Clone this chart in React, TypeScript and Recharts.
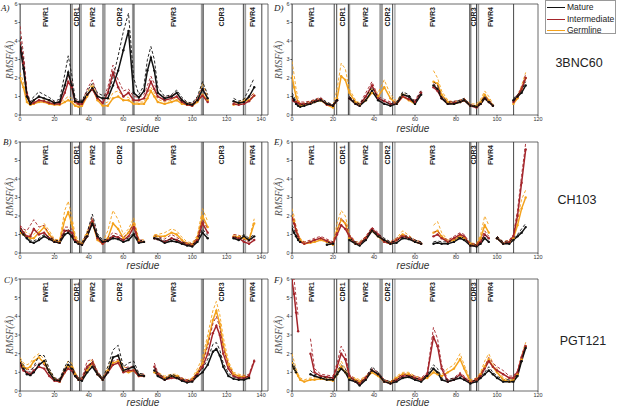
import React from 'react';
import { LineChart, Line, XAxis, YAxis, ReferenceLine, ReferenceArea } from 'recharts';

// residue positions sampled for heavy (A-C) and light (D-F) chains
const heavyRes = [0, 2, 4, 6, 8, 11, 14, 17, 20, 23, 26, 28, 30, 32, 34, 36, 39, 42, 45, 48, 51, 54, 57, 60, 63, 66, 69, 72, 74, 76, 78, 80, 84, 88, 91, 94, 97, 100, 103, 106, 109, 112, 114, 116, 118, 121, 124, 127, 130, 133, 136];
const lightRes = [0, 1, 2, 3, 4, 6, 9, 11, 14, 17, 20, 22, 24, 26, 28, 31, 33, 36, 39, 42, 45, 48, 51, 54, 57, 60, 63, 66, 69, 71, 73, 76, 79, 82, 84, 87, 90, 92, 94, 96, 98, 100, 103, 106, 108, 110, 112, 114];

const heavyTicks = [0, 20, 40, 60, 80, 100, 120, 140];
const lightTicks = [0, 20, 40, 60, 80, 100, 120];
const rmsfTicks = [0, 1, 2, 3, 4, 5, 6];

// region boundaries (residue numbers)
const heavyBlack = [29.3, 34.6, 48.2, 66.2, 106.4, 129.7, 140.4];
const heavyGray = [[0, 0.5], [29.7, 30.7], [35, 35.9], [48.7, 49.7], [65, 66], [105, 106.2], [130.3, 131.3]];
const heavyRegions: [string, number][] = [['FWR1', 14.7], ['CDR1', 32.6], ['FWR2', 42.3], ['CDR2', 57.5], ['FWR3', 89], ['CDR3', 117], ['FWR4', 135]];
const lightBlack = [20.6, 21.8, 27.5, 43.9, 49.1, 86.7, 90, 108.1];
const lightGray = [[0, 0.4], [27.6, 28.4], [42.6, 43.4], [49.9, 50.5], [86.8, 87.6], [90.5, 91.3]];
const lightRegions: [string, number][] = [['FWR1', 9.3], ['CDR1', 24.6], ['FWR2', 36], ['CDR2', 46.6], ['FWR3', 68.6], ['CDR3', 88.4], ['FWR4', 96.7]];

// A) 3BNC60 heavy
const matureA = [3.7, 2.5, 1.0, 0.6, 0.8, 1.0, 0.9, 0.8, 0.65, 0.7, 1.6, 2.3, 1.6, 0.75, 0.7, 0.7, 1.1, 1.45, 1.0, 0.9, 0.9, 1.6, 2.4, 3.5, 4.55, 1.2, 0.95, 1.3, 2.4, 3.1, 2.4, 1.2, 0.9, 1.0, 1.2, 0.8, 0.6, 0.55, 0.8, 1.4, 0.9, null, null, null, null, null, 0.75, 0.65, 0.7, 1.0, 1.5];
const matureHiA = [4.2, 3.0, 1.2, 0.7, 1.0, 1.25, 1.1, 0.95, 0.75, 0.85, 2.2, 3.2, 2.2, 0.9, 0.8, 0.8, 1.3, 1.7, 1.2, 1.05, 1.1, 2.0, 3.2, 4.5, 5.5, 2.0, 1.1, 1.6, 3.0, 3.7, 3.0, 1.5, 1.0, 1.1, 1.35, 0.95, 0.7, 0.65, 1.0, 1.8, 1.1, null, null, null, null, null, 0.9, 0.75, 0.85, 1.4, 2.0];
const interA = [3.9, 2.8, 1.1, 0.6, 0.65, 0.8, 0.75, 0.65, 0.6, 0.6, 1.2, 1.8, 1.5, 0.7, 0.6, 0.6, 1.1, 1.4, 0.9, 0.65, 1.2, 2.3, 1.5, 1.0, 1.2, 0.8, 0.8, 0.9, 1.3, 1.8, 1.4, 1.0, 0.8, 0.9, 1.0, 0.7, 0.55, 0.5, 0.8, 1.05, 0.7, null, null, null, null, null, 0.6, 0.55, 0.6, 0.75, 1.05];
const interHiA = [4.8, 3.3, 1.3, 0.7, 0.8, 0.95, 0.9, 0.8, 0.7, 0.7, 1.5, 2.1, 1.8, 0.85, 0.7, 0.7, 1.4, 1.9, 1.1, 0.8, 1.5, 2.7, 1.9, 1.3, 1.4, 1.0, 0.95, 1.1, 1.6, 2.1, 1.7, 1.2, 0.95, 1.05, 1.2, 0.85, 0.65, 0.6, 0.95, 1.5, 0.9, null, null, null, null, null, 0.7, 0.65, 0.7, 0.9, 1.2];
const germA = [2.0, 1.5, 0.7, 0.55, 0.6, 0.7, 0.7, 0.6, 0.55, 0.55, 0.7, 0.8, 0.7, 0.5, 0.45, 0.5, 1.0, 1.5, 0.8, 0.5, 0.5, 0.9, 1.0, 0.8, 0.8, 0.6, 0.6, 0.6, 0.9, 1.3, 1.0, 0.7, 0.6, 0.7, 0.8, 0.6, 0.55, 0.5, 0.7, 1.1, 0.8, null, null, null, null, null, 0.55, 0.6, 0.75, 0.8, 1.05];
const germHiA = [2.3, 1.8, 0.9, 0.65, 0.7, 0.8, 0.8, 0.7, 0.65, 0.65, 0.85, 1.0, 0.9, 0.6, 0.55, 0.6, 1.2, 1.7, 0.95, 0.6, 0.7, 1.2, 1.3, 1.0, 0.95, 0.7, 0.7, 0.7, 1.1, 1.5, 1.2, 0.85, 0.7, 0.8, 0.95, 0.7, 0.65, 0.6, 0.85, 1.7, 1.0, null, null, null, null, null, 0.65, 0.7, 0.85, 0.95, 1.2];

// B) CH103 heavy
const matureB = [1.2, 1.0, 0.8, 0.6, 0.55, 0.7, 0.9, 0.75, 0.6, 0.55, 1.0, 1.1, 0.9, 0.6, 0.5, 0.45, 0.9, 1.6, 0.9, 0.6, 0.65, 0.8, 0.75, 0.6, 0.7, 1.0, 0.55, 0.6, null, null, 0.8, 0.75, 0.55, 0.65, 0.6, 0.5, 0.4, 0.35, 0.6, 1.1, 0.8, null, null, null, null, null, 0.8, 0.7, 0.9, 0.7, 0.9];
const matureHiB = [1.4, 1.15, 0.9, 0.7, 0.65, 0.8, 1.0, 0.85, 0.7, 0.65, 1.15, 1.3, 1.05, 0.7, 0.6, 0.55, 1.1, 2.1, 1.05, 0.7, 0.75, 0.95, 0.85, 0.7, 0.8, 1.1, 0.65, 0.7, null, null, 0.9, 0.85, 0.65, 0.75, 0.7, 0.6, 0.5, 0.45, 0.7, 1.3, 0.95, null, null, null, null, null, 0.9, 0.8, 1.0, 0.8, 1.0];
const interB = [1.4, 1.1, 0.9, 0.9, 1.3, 1.0, 1.1, 0.8, 0.6, 0.55, 1.2, 1.2, 1.1, 0.7, 0.5, 0.45, 0.9, 1.7, 0.8, 0.5, 0.7, 0.9, 0.85, 0.7, 0.9, 1.4, 0.6, 0.6, null, null, 0.8, 0.75, 0.6, 0.8, 0.7, 0.55, 0.45, 0.4, 0.7, 1.6, 1.1, null, null, null, null, null, 0.85, 0.8, 0.6, 0.5, 0.7];
const interHiB = [1.5, 1.3, 1.2, 1.5, 1.8, 1.4, 1.5, 1.0, 0.7, 0.65, 1.4, 1.4, 1.3, 0.8, 0.6, 0.55, 1.1, 1.9, 0.95, 0.6, 0.85, 1.1, 1.0, 0.85, 1.1, 1.6, 0.7, 0.7, null, null, 0.95, 0.9, 0.75, 1.0, 0.85, 0.65, 0.55, 0.5, 0.85, 1.8, 1.3, null, null, null, null, null, 1.0, 0.95, 0.75, 0.6, 0.85];
const germB = [1.1, 1.0, 0.9, 0.8, 0.8, 1.1, 1.4, 1.0, 0.65, 0.6, 1.8, 2.2, 1.6, 0.8, 0.55, 0.5, 1.0, 1.65, 0.7, 0.5, 0.8, 1.6, 1.3, 0.8, 1.1, 1.6, 0.65, 0.6, null, null, 0.9, 0.9, 0.9, 1.1, 1.0, 0.7, 0.5, 0.45, 0.8, 2.0, 1.4, null, null, null, null, null, 0.9, 0.85, 0.8, 0.7, 1.6];
const germHiB = [1.3, 1.2, 1.1, 1.0, 1.0, 1.3, 1.6, 1.2, 0.75, 0.7, 2.3, 2.8, 2.0, 1.0, 0.65, 0.6, 1.2, 1.85, 0.85, 0.6, 1.2, 2.3, 1.8, 1.0, 1.3, 1.9, 0.75, 0.7, null, null, 1.0, 1.0, 1.1, 1.3, 1.2, 0.85, 0.6, 0.55, 0.95, 2.4, 1.7, null, null, null, null, null, 1.0, 0.95, 0.9, 0.75, 1.85];

// C) PGT121 heavy
const matureC = [1.5, 1.2, 0.9, 0.85, 1.0, 1.4, 1.6, 1.0, 0.6, 0.55, 1.1, 1.4, 1.2, 0.8, 0.6, 0.55, 1.0, 1.3, 0.9, 0.6, 1.0, 1.8, 1.9, 1.1, 1.2, 1.3, 0.85, 0.8, null, null, 1.1, 0.8, 0.6, 0.8, 0.7, 0.55, 0.45, 0.5, 0.8, 1.0, 1.4, 2.1, 2.25, 1.9, 1.3, 0.8, 0.65, 0.6, 0.6, 0.7, null];
const matureHiC = [1.7, 1.4, 1.1, 1.0, 1.3, 1.9, 1.9, 1.2, 0.7, 0.65, 1.3, 1.6, 1.4, 0.95, 0.7, 0.65, 1.2, 1.6, 1.0, 0.7, 1.3, 2.2, 2.45, 1.3, 1.5, 1.6, 0.95, 0.9, null, null, 1.3, 0.95, 0.7, 0.9, 0.8, 0.65, 0.55, 0.6, 0.95, 1.2, 1.7, 2.5, 2.6, 2.2, 1.5, 0.95, 0.75, 0.7, 0.7, 0.8, null];
const interC = [1.4, 1.1, 1.0, 0.9, 1.1, 1.3, 1.2, 0.8, 0.55, 0.5, 1.0, 1.2, 1.1, 0.8, 0.6, 0.6, 1.3, 1.5, 0.9, 0.6, 1.0, 1.4, 1.5, 1.0, 1.1, 1.1, 0.8, 0.8, null, null, 1.3, 0.9, 0.6, 0.7, 0.7, 0.6, 0.5, 0.55, 0.9, 1.3, 2.0, 3.1, 3.5, 3.0, 2.0, 1.2, 0.8, 0.7, 0.7, 0.8, 1.6];
const interHiC = [1.6, 1.3, 1.2, 1.1, 1.3, 1.5, 1.4, 0.95, 0.65, 0.6, 1.2, 1.4, 1.3, 0.95, 0.7, 0.7, 1.6, 1.7, 1.05, 0.7, 1.1, 1.6, 1.7, 1.2, 1.3, 1.3, 0.9, 0.9, null, null, 1.5, 1.0, 0.7, 0.8, 0.8, 0.7, 0.6, 0.65, 1.0, 1.5, 2.4, 3.6, 4.0, 3.4, 2.3, 1.4, 0.9, 0.8, 0.8, 0.9, 1.7];
const germC = [1.6, 1.3, 1.2, 1.3, 1.6, 1.8, 1.5, 1.0, 0.6, 0.5, 1.0, 1.3, 1.3, 0.9, 0.6, 0.6, 1.1, 1.5, 0.9, 0.6, 1.1, 1.5, 1.6, 1.1, 1.0, 1.1, 0.8, 0.8, null, null, 1.0, 0.9, 0.7, 0.8, 0.8, 0.6, 0.5, 0.6, 1.0, 1.5, 2.6, 3.8, 4.3, 3.6, 2.5, 1.4, 0.9, 0.8, 0.75, 0.7, null];
const germHiC = [1.8, 1.5, 1.4, 1.5, 1.8, 2.0, 1.7, 1.15, 0.7, 0.6, 1.2, 1.6, 1.5, 1.0, 0.7, 0.7, 1.3, 1.7, 1.0, 0.7, 1.3, 1.8, 1.9, 1.3, 1.2, 1.3, 0.9, 0.9, null, null, 1.1, 1.0, 0.8, 0.9, 0.9, 0.7, 0.6, 0.7, 1.2, 1.8, 3.0, 4.3, 4.8, 4.1, 2.9, 1.6, 1.0, 0.9, 0.85, 0.8, null];

// D) 3BNC60 light
const matureD = [1.0, 0.8, 0.6, 0.5, 0.45, 0.5, 0.6, 0.7, 0.8, 0.6, 0.5, 0.8, null, null, 0.9, 0.6, 0.5, 0.8, 1.3, 0.8, 0.6, 0.5, 0.6, 1.1, 1.0, 0.6, 1.1, null, 1.6, 1.4, 0.9, 0.6, 0.6, 0.7, 0.8, 0.5, 0.45, 0.6, 0.9, 0.7, 0.5, null, null, null, 0.8, 1.0, 1.2, 1.6];
const matureHiD = [1.2, 1.0, 0.7, 0.6, 0.55, 0.6, 0.7, 0.8, 0.9, 0.7, 0.55, 0.9, null, null, 1.0, 0.7, 0.6, 1.0, 1.5, 0.95, 0.7, 0.6, 0.7, 1.25, 1.1, 0.7, 1.3, null, 1.8, 1.6, 1.0, 0.7, 0.7, 0.8, 0.9, 0.55, 0.5, 0.7, 1.0, 0.8, 0.55, null, null, null, 0.9, 1.1, 1.3, 1.8];
const interD = [0.8, 0.75, 0.7, 0.65, 0.6, 0.6, 0.65, 0.75, 0.85, 0.55, 0.5, 0.8, null, null, 0.9, 0.6, 0.5, 1.0, 1.6, 0.9, 0.75, 0.6, 0.6, 1.0, 0.85, 0.7, 1.2, null, 1.5, 1.3, 0.9, 0.6, 0.65, 0.7, 0.8, 0.5, 0.4, 0.6, 0.9, 0.7, 0.5, null, null, null, 0.7, 1.0, 1.4, 2.0];
const interHiD = [0.9, 0.85, 0.8, 0.75, 0.7, 0.7, 0.75, 0.85, 0.95, 0.65, 0.55, 0.9, null, null, 1.0, 0.7, 0.6, 1.2, 1.8, 1.0, 0.85, 0.7, 0.7, 1.1, 0.95, 0.8, 1.35, null, 1.7, 1.5, 1.0, 0.7, 0.75, 0.8, 0.9, 0.55, 0.5, 0.7, 1.0, 0.8, 0.55, null, null, null, 0.8, 1.1, 1.5, 2.2];
const germD = [2.1, 1.5, 1.0, 0.7, 0.5, 0.55, 0.65, 0.7, 0.8, 0.55, 0.4, 0.9, 2.1, 1.9, 1.2, 0.7, 0.55, 0.8, 1.2, 1.0, 1.5, 0.9, 0.6, 1.0, 0.8, 0.6, null, null, 1.8, 1.7, 1.1, 0.7, 0.6, 0.7, 0.8, 0.5, 0.5, 0.7, 1.1, 0.8, 0.5, null, null, null, 0.6, 0.9, 1.4, 2.0];
const germHiD = [2.9, 2.2, 1.4, 0.9, 0.6, 0.65, 0.75, 0.8, 0.9, 0.65, 0.5, 1.4, 2.8, 2.5, 1.4, 0.8, 0.65, 0.95, 1.4, 1.2, 1.9, 1.1, 0.75, 1.2, 0.95, 0.7, null, null, 2.4, 2.0, 1.3, 0.8, 0.7, 0.8, 0.9, 0.6, 0.6, 0.85, 1.3, 1.0, 0.6, null, null, null, 0.7, 1.0, 1.6, 2.3];

// E) CH103 light
const matureE = [1.3, 1.1, 0.9, 0.7, 0.6, null, null, null, null, 0.45, 0.5, null, null, null, 0.7, 0.5, 0.4, 0.7, 1.2, 0.9, 0.7, 0.5, 0.55, 0.8, 0.75, 0.6, 0.5, null, 0.5, 0.55, 0.5, 0.5, 0.6, 0.8, 0.7, 0.4, 0.35, 0.5, 0.8, 0.6, null, 0.8, 0.5, 0.5, 0.7, 0.9, 1.1, 1.4];
const matureHiE = [1.5, 1.3, 1.0, 0.8, 0.7, null, null, null, null, 0.55, 0.6, null, null, null, 0.8, 0.6, 0.5, 0.8, 1.3, 1.0, 0.8, 0.6, 0.65, 0.9, 0.85, 0.7, 0.6, null, 0.6, 0.65, 0.6, 0.6, 0.7, 0.9, 0.8, 0.5, 0.45, 0.6, 1.0, 0.75, null, 0.9, 0.6, 0.6, 0.8, 1.0, 1.3, 1.6];
const interE = [1.9, 1.6, 1.2, 0.9, 0.6, 0.5, 0.6, 0.7, 0.8, 0.65, 0.5, 1.0, 1.5, 1.3, 0.9, 0.5, 0.5, 0.8, 1.3, 1.0, 0.6, 0.5, 0.7, 0.9, 0.8, 0.6, 0.5, null, 0.9, 1.0, 0.8, 0.6, 0.8, 1.0, 0.9, 0.4, 0.4, 0.6, 1.0, 0.8, null, 0.8, 0.5, 0.6, 0.9, 2.0, 3.8, 5.6];
const interHiE = [2.1, 1.8, 1.4, 1.0, 0.7, 0.6, 0.7, 0.8, 0.9, 0.75, 0.6, 1.2, 1.9, 1.6, 1.0, 0.6, 0.6, 0.9, 1.4, 1.1, 0.7, 0.6, 0.8, 1.0, 0.9, 0.7, 0.6, null, 1.1, 1.2, 0.9, 0.7, 0.9, 1.1, 1.0, 0.5, 0.5, 0.7, 1.2, 0.9, null, 0.9, 0.6, 0.7, 1.0, 2.3, 4.2, 5.95];
const germE = [2.0, 1.7, 1.2, 0.9, 0.7, 0.5, 0.55, 0.6, 0.7, 0.6, 0.45, 1.2, 1.8, 1.6, 0.8, 0.5, 0.5, 0.8, 1.2, 0.9, 0.6, 0.5, 0.7, 1.0, 0.8, 0.6, 0.5, null, 1.1, 1.2, 0.9, 0.6, 0.7, 0.9, 0.8, 0.5, 0.4, 0.8, 1.5, 1.1, null, 0.8, 0.5, 0.6, 0.8, 1.5, 2.4, 3.0];
const germHiE = [2.4, 2.0, 1.4, 1.0, 0.8, 0.6, 0.65, 0.7, 0.8, 0.7, 0.55, 1.6, 2.3, 2.0, 1.0, 0.6, 0.6, 0.9, 1.3, 1.0, 0.7, 0.6, 0.8, 1.2, 0.95, 0.7, 0.6, null, 1.5, 1.7, 1.1, 0.7, 0.8, 1.0, 0.9, 0.55, 0.5, 1.0, 2.0, 1.5, null, 0.9, 0.6, 0.7, 0.9, 1.8, 2.9, 3.4];

// F) PGT121 light
const matureF = [1.4, 1.2, 1.0, null, null, null, 0.9, 0.8, 0.7, 0.6, 0.6, 0.9, 1.2, 1.0, 0.6, 0.5, 0.3, 0.6, 1.1, 0.9, 0.5, 0.4, 0.5, 0.7, 0.75, 0.6, 0.5, 0.8, 1.2, 1.0, 0.6, 0.5, 0.6, 0.7, 0.6, 0.4, 0.5, 0.7, 0.9, 1.1, 0.9, 0.7, 0.5, 0.5, 0.5, 0.8, 1.6, 2.3];
const matureHiF = [1.6, 1.4, 1.1, null, null, null, 1.1, 0.9, 0.8, 0.7, 0.7, 1.0, 1.4, 1.2, 0.7, 0.6, 0.4, 0.7, 1.3, 1.0, 0.6, 0.5, 0.6, 0.8, 0.85, 0.7, 0.6, 0.9, 1.4, 1.2, 0.7, 0.6, 0.7, 0.8, 0.7, 0.5, 0.6, 0.8, 1.0, 1.3, 1.0, 0.8, 0.6, 0.6, 0.6, 0.9, 1.7, 2.4];
const interF = [5.9, 5.2, 4.2, 3.2, null, null, 2.0, 1.0, 0.8, 0.75, 0.7, 1.3, 2.0, 1.7, 0.8, 0.5, 0.4, 0.7, 1.1, 0.9, 0.5, 0.4, 0.6, 0.8, 0.8, 0.7, 0.6, 0.9, 2.9, 2.4, 1.2, 0.5, 0.6, 0.9, 0.7, 0.45, 0.6, 0.8, 1.2, 1.6, 1.3, 1.1, 0.9, 0.7, 0.7, 1.0, 1.8, 2.4];
const interHiF = [6.0, 6.0, 5.0, 4.0, null, null, 2.8, 1.2, 0.9, 0.85, 0.8, 1.5, 2.4, 2.0, 0.9, 0.6, 0.5, 0.8, 1.2, 1.0, 0.6, 0.5, 0.7, 0.9, 0.9, 0.8, 0.7, 1.0, 3.4, 2.8, 1.4, 0.6, 0.7, 1.0, 0.8, 0.5, 0.7, 0.9, 1.3, 1.8, 1.5, 1.3, 1.1, 0.8, 0.8, 1.1, 1.9, 2.6];
const germF = [1.5, 1.2, 1.0, 0.8, 0.6, 0.5, 0.6, 0.6, 0.65, 0.6, 0.55, 0.9, 1.3, 1.0, 0.7, 0.6, 0.5, 0.7, 1.0, 0.8, 0.5, 0.45, 0.7, 0.9, 0.9, 0.7, 0.6, 0.7, 1.0, 0.9, 0.8, 1.0, 1.2, 1.7, 1.2, 0.5, 0.6, 0.9, 1.3, 1.7, 1.3, 1.0, 0.6, 0.5, 0.6, 0.9, 1.7, 2.4];
const germHiF = [2.0, 1.6, 1.2, 0.9, 0.7, 0.6, 0.7, 0.7, 0.75, 0.7, 0.6, 1.0, 1.6, 1.2, 0.8, 0.7, 0.6, 0.8, 1.1, 0.9, 0.6, 0.5, 0.8, 1.0, 1.0, 0.8, 0.7, 0.8, 1.1, 1.0, 0.9, 1.2, 1.4, 2.0, 1.4, 0.6, 0.7, 1.0, 1.6, 2.0, 1.5, 1.2, 0.7, 0.6, 0.7, 1.0, 1.9, 2.6];

const MATURE = '#111111';
const INTER = '#a4252b';
const GERM = '#f4a21c';
const SANS = "'Liberation Sans', Arial, Helvetica, sans-serif";
const SERIF = "'Liberation Serif', 'Times New Roman', serif";

const RegionLabel = (props: any) => {
  const vb = props.viewBox || props;
  return (
    <text
      transform={`translate(${vb.x + 2.5},${vb.y + 13}) rotate(-90)`}
      textAnchor="middle"
      fontSize={7}
      fontWeight={700}
      fontFamily={SANS}
      fill="#222"
    >
      {props.text}
    </text>
  );
};

interface PanelProps {
  left: number;
  top: number;
  width: number;
  height: number;
  res: number[];
  mature: (number | null)[];
  matureHi: (number | null)[];
  inter: (number | null)[];
  interHi: (number | null)[];
  germ: (number | null)[];
  germHi: (number | null)[];
  xMax: number;
  xTicks: number[];
  blackLines: number[];
  grayBands: number[][];
  regions: [string, number][];
}

const Panel: React.FC<PanelProps> = (p) => {
  const rows = p.res.map((x, i) => ({
    x,
    m: p.mature[i], mh: p.matureHi[i],
    it: p.inter[i], ih: p.interHi[i],
    g: p.germ[i], gh: p.germHi[i],
  }));
  const tick = { fontSize: 5.5, fill: '#333', fontFamily: SANS };
  return (
    <div style={{ position: 'absolute', left: p.left - 20, top: p.top - 5 }}>
      <LineChart width={p.width + 25} height={p.height + 25} data={rows} margin={{ top: 5, right: 5, bottom: 0, left: 0 }}>
        <XAxis type="number" dataKey="x" domain={[0, p.xMax]} ticks={p.xTicks} interval={0} allowDataOverflow
          height={20} tickSize={1.5} tickMargin={1} tick={tick} axisLine={false} stroke="#444" />
        <YAxis type="number" domain={[0, 6]} ticks={rmsfTicks} interval={0} allowDataOverflow
          width={20} tickSize={1.5} tickMargin={1} tick={tick} axisLine={false} stroke="#444" />
        {p.grayBands.map(([a, b], i) => (
          <ReferenceArea key={'g' + i} x1={a} x2={b} y1={0} y2={6} fill="#9c9c9c" fillOpacity={1} stroke="none" ifOverflow="hidden" />
        ))}
        {p.blackLines.map((v, i) => (
          <ReferenceLine key={'b' + i} x={v} stroke="#333" strokeWidth={0.9} ifOverflow="hidden" />
        ))}
        {p.regions.map(([name, v]) => (
          <ReferenceLine key={name} x={v} stroke="none" label={<RegionLabel text={name} />} />
        ))}
        <ReferenceArea x1={0} x2={p.xMax} y1={0} y2={6} fill="none" stroke="#444" strokeWidth={0.8} />
        <Line dataKey="gh" stroke={GERM} strokeWidth={0.9} strokeDasharray="3 2" dot={false} isAnimationActive={false} />
        <Line dataKey="g" stroke={GERM} strokeWidth={1.5} dot={{ r: 1.2, fill: GERM, strokeWidth: 0 }} isAnimationActive={false} />
        <Line dataKey="ih" stroke={INTER} strokeWidth={0.9} strokeDasharray="3 2" dot={false} isAnimationActive={false} />
        <Line dataKey="it" stroke={INTER} strokeWidth={1.5} dot={{ r: 1.2, fill: INTER, strokeWidth: 0 }} isAnimationActive={false} />
        <Line dataKey="mh" stroke={MATURE} strokeWidth={0.9} strokeDasharray="3 2" dot={false} isAnimationActive={false} />
        <Line dataKey="m" stroke={MATURE} strokeWidth={1.5} dot={{ r: 1.2, fill: MATURE, strokeWidth: 0 }} isAnimationActive={false} />
      </LineChart>
    </div>
  );
};

const abs = (extra: React.CSSProperties): React.CSSProperties => ({ position: 'absolute', whiteSpace: 'nowrap', ...extra });

const YLabel = ({ cx, cy }: { cx: number; cy: number }) => (
  <div style={abs({ left: cx - 30, top: cy - 6, width: 60, height: 12, lineHeight: '12px', textAlign: 'center',
    transform: 'rotate(-90deg)', fontFamily: SERIF, fontStyle: 'italic', fontSize: 10, color: '#555' })}>
    RMSF(Å)
  </div>
);

const XLabel = ({ cx, cy }: { cx: number; cy: number }) => (
  <div style={abs({ left: cx - 30, top: cy - 6, width: 60, lineHeight: '12px', textAlign: 'center',
    fontFamily: SANS, fontStyle: 'italic', fontSize: 10, color: '#333' })}>
    residue
  </div>
);

const Letter = ({ x, y, t }: { x: number; y: number; t: string }) => (
  <div style={abs({ left: x, top: y - 5, lineHeight: '10px', fontFamily: SERIF, fontStyle: 'italic', fontSize: 9, color: '#222' })}>{t}</div>
);

const Name = ({ cx, cy, t }: { cx: number; cy: number; t: string }) => (
  <div style={abs({ left: cx - 40, top: cy - 8, width: 80, lineHeight: '16px', textAlign: 'center', fontFamily: SANS, fontSize: 12.5, color: '#222' })}>{t}</div>
);

const legendItems: [string, string][] = [['Mature', MATURE], ['Intermediate', INTER], ['Germline', GERM]];

export default function App() {
  const heavy = { width: 248, xMax: 144, xTicks: heavyTicks, res: heavyRes, blackLines: heavyBlack, grayBands: heavyGray, regions: heavyRegions };
  const light = { width: 246, xMax: 120, xTicks: lightTicks, res: lightRes, blackLines: lightBlack, grayBands: lightGray, regions: lightRegions };
  return (
    <div style={{ position: 'absolute', left: 0, top: 0, width: 617, height: 409, background: '#fff', overflow: 'hidden' }}>
      <Panel {...heavy} left={20} top={4} height={111} mature={matureA} matureHi={matureHiA} inter={interA} interHi={interHiA} germ={germA} germHi={germHiA} />
      <Panel {...heavy} left={20} top={142} height={111} mature={matureB} matureHi={matureHiB} inter={interB} interHi={interHiB} germ={germB} germHi={germHiB} />
      <Panel {...heavy} left={20} top={279} height={112} mature={matureC} matureHi={matureHiC} inter={interC} interHi={interHiC} germ={germC} germHi={germHiC} />
      <Panel {...light} left={292} top={4} height={111} mature={matureD} matureHi={matureHiD} inter={interD} interHi={interHiD} germ={germD} germHi={germHiD} />
      <Panel {...light} left={292} top={142} height={111} mature={matureE} matureHi={matureHiE} inter={interE} interHi={interHiE} germ={germE} germHi={germHiE} />
      <Panel {...light} left={292} top={279} height={112} mature={matureF} matureHi={matureHiF} inter={interF} interHi={interHiF} germ={germF} germHi={germHiF} />

      <YLabel cx={10} cy={60} />
      <YLabel cx={10} cy={197} />
      <YLabel cx={10} cy={335} />
      <YLabel cx={279} cy={60} />
      <YLabel cx={279} cy={197} />
      <YLabel cx={279} cy={335} />

      <XLabel cx={143} cy={129} />
      <XLabel cx={143} cy={266} />
      <XLabel cx={143} cy={403} />
      <XLabel cx={413} cy={129} />
      <XLabel cx={413} cy={266} />
      <XLabel cx={413} cy={403} />

      <Letter x={1} y={8} t="A)" />
      <Letter x={3} y={142} t="B)" />
      <Letter x={4} y={280} t="C)" />
      <Letter x={274} y={8} t="D)" />
      <Letter x={274} y={142} t="E)" />
      <Letter x={274} y={280} t="F)" />

      <Name cx={579} cy={63} t="3BNC60" />
      <Name cx={577} cy={200} t="CH103" />
      <Name cx={583} cy={341} t="PGT121" />

      <div style={abs({ left: 545, top: 0, width: 71, height: 34, border: '1px solid #999', background: '#fff', boxSizing: 'border-box' })}>
        {legendItems.map(([label, color], i) => (
          <div key={label} style={abs({ left: 1, top: 1 + i * 11.5, height: 10, width: 70 })}>
            <div style={abs({ left: 0, top: 5, width: 18, height: 0, borderTop: `1.5px solid ${color}` })} />
            <div style={abs({ left: 20, top: 0, lineHeight: '11px', fontFamily: SANS, fontSize: 8.5, color: '#222' })}>{label}</div>
          </div>
        ))}
      </div>
    </div>
  );
}
